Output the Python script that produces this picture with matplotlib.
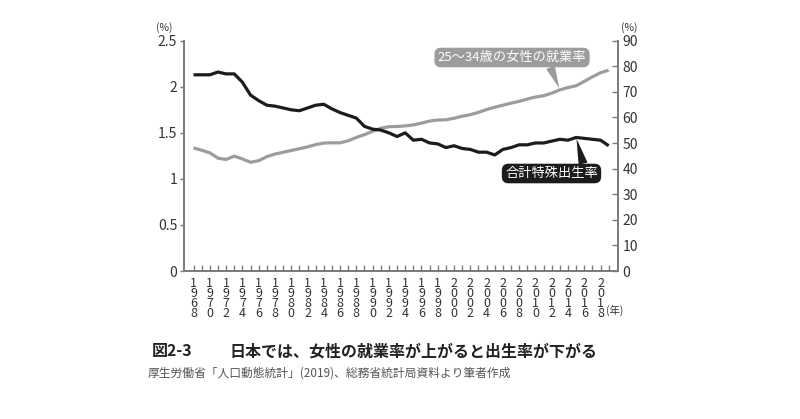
import numpy as np
import matplotlib
matplotlib.use('Agg')
import matplotlib.pyplot as plt

plt.rcParams['font.family'] = ['Noto Sans CJK JP', 'DejaVu Sans']

years = list(range(1968, 2020))

# 合計特殊出生率 (left axis)
tfr = [2.13, 2.13, 2.13, 2.16, 2.14, 2.14, 2.05, 1.91, 1.85, 1.80,
       1.79, 1.77, 1.75, 1.74, 1.77, 1.80, 1.81, 1.76, 1.72, 1.69,
       1.66, 1.57, 1.54, 1.53, 1.50, 1.46, 1.50, 1.42, 1.43, 1.39,
       1.38, 1.34, 1.36, 1.33, 1.32, 1.29, 1.29, 1.26, 1.32, 1.34,
       1.37, 1.37, 1.39, 1.39, 1.41, 1.43, 1.42, 1.45, 1.44, 1.43,
       1.42, 1.36]

# 25~34歳の女性の就業率 (right axis, %)
emp = [48.1, 47.2, 46.2, 44.1, 43.6, 44.9, 43.8, 42.5, 43.1, 44.7,
       45.7, 46.4, 47.1, 47.8, 48.5, 49.4, 50.0, 50.1, 50.1, 50.9,
       52.2, 53.3, 54.6, 55.8, 56.4, 56.5, 56.7, 57.1, 57.8, 58.6,
       59.0, 59.1, 59.7, 60.5, 61.1, 62.0, 63.1, 64.0, 64.8, 65.6,
       66.3, 67.2, 68.0, 68.5, 69.5, 70.8, 71.7, 72.4, 74.1, 75.9,
       77.5, 78.5]

left_ticks = [0, 0.5, 1, 1.5, 2, 2.5]
left_labels = ['0', '0.5', '1', '1.5', '2', '2.5']
right_ticks = list(range(0, 100, 10))

title_no = '図2-3'
title = '日本では、女性の就業率が上がると出生率が下がる'
source = '厚生労働省「人口動態統計」(2019)、総務省統計局資料より筆者作成'

fig = plt.figure(figsize=(8, 4.19), dpi=100)
ax = fig.add_axes([0.2294, 0.3532, 0.5437, 0.5496])
ax2 = ax.twinx()

spine_c = '#7a7a7a'
text_c = '#333333'
gray_c = '#9c9c9c'
black_c = '#1c1c1c'

ax2.plot(years, emp, color=gray_c, lw=2.3, solid_capstyle='butt')
ax.plot(years, tfr, color=black_c, lw=2.3, solid_capstyle='butt')
ax.set_zorder(ax2.get_zorder() + 1)
ax.patch.set_visible(False)

ax.set_xlim(1966.77, 2020.2)
ax.set_ylim(0, 2.5)
ax2.set_ylim(0, 90)

for a in (ax, ax2):
    a.spines['top'].set_visible(False)
    for s in ('left', 'right', 'bottom'):
        a.spines[s].set_color(spine_c)
        a.spines[s].set_linewidth(1.2)

ax.set_yticks(left_ticks)
ax.set_yticklabels(left_labels)
ax.tick_params(axis='y', direction='out', length=3, width=1, color=spine_c,
               labelsize=10, labelcolor=text_c, pad=1.5)
ax2.set_yticks(right_ticks)
ax2.tick_params(axis='y', direction='in', length=4, width=1, color=spine_c,
                labelsize=10, labelcolor=text_c, pad=3)

xlabels = ['\n'.join(str(y)) if y % 2 == 0 else '' for y in years]
ax.set_xticks(years)
ax.set_xticklabels(xlabels, linespacing=0.72)
ax.tick_params(axis='x', direction='in', length=4, width=1, color=spine_c,
               labelsize=9, labelcolor=text_c, pad=4)

fig.text(164 / 800, 1 - 28 / 419, '(%)', fontsize=7.5, color=text_c,
         ha='center', va='center')
fig.text(629 / 800, 1 - 28 / 419, '(%)', fontsize=7.5, color=text_c,
         ha='center', va='center')
fig.text(606 / 800, 1 - 310 / 419, '(年)', fontsize=7.5, color=text_c,
         ha='left', va='center')

# callouts
i_emp = years.index(2013)
ax2.annotate('25～34歳の女性の就業率', xy=(years[i_emp], emp[i_emp]),
             xytext=(512, 419 - 57.5), textcoords='figure pixels',
             ha='center', va='center', fontsize=9.5, color='white',
             bbox=dict(boxstyle='round,pad=0.25,rounding_size=0.5',
                       fc=gray_c, ec='none'),
             arrowprops=dict(arrowstyle='wedge,tail_width=0.7,shrink_factor=0.5',
                             fc=gray_c, ec='none', relpos=(0.75, 0.0),
                             shrinkA=0, shrinkB=1))

i_tfr = years.index(2015)
ax.annotate('合計特殊出生率', xy=(years[i_tfr], tfr[i_tfr]),
            xytext=(551.5, 419 - 173.5), textcoords='figure pixels',
            ha='center', va='center', fontsize=9.5, color='white',
            bbox=dict(boxstyle='round,pad=0.25,rounding_size=0.5',
                      fc=black_c, ec='none'),
            arrowprops=dict(arrowstyle='wedge,tail_width=0.7,shrink_factor=0.5',
                            fc=black_c, ec='none', relpos=(0.85, 1.0),
                            shrinkA=0, shrinkB=1))

fig.text(152 / 800, 1 - 351 / 419, title_no, fontsize=11.5, fontweight='bold',
         color='#222222', ha='left', va='center')
fig.text(230 / 800, 1 - 351 / 419, title, fontsize=11.5, fontweight='bold',
         color='#222222', ha='left', va='center')
fig.text(148 / 800, 1 - 373 / 419, source, fontsize=8.5, color='#555555',
         ha='left', va='center')

fig.savefig('out.png', dpi=100)
